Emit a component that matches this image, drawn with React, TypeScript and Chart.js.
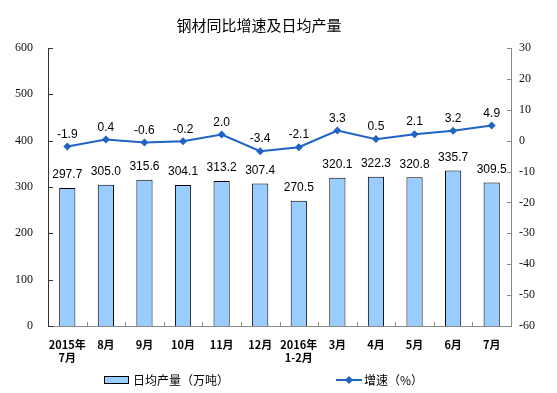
import React, { useEffect, useRef } from "react";
import { Chart, registerables } from "chart.js";
Chart.register(...registerables);

const categories: (string | string[])[] = [["2015年", "7月"], "8月", "9月", "10月", "11月", "12月", ["2016年", "1-2月"], "3月", "4月", "5月", "6月", "7月"];
const output = [297.7, 305.0, 315.6, 304.1, 313.2, 307.4, 270.5, 320.1, 322.3, 320.8, 335.7, 309.5];
const growth = [-1.9, 0.4, -0.6, -0.2, 2.0, -3.4, -2.1, 3.3, 0.5, 2.1, 3.2, 4.9];
const leftTicks = [0, 100, 200, 300, 400, 500, 600];
const rightTicks = [-60, -50, -40, -30, -20, -10, 0, 10, 20, 30];
const title = "钢材同比增速及日均产量";
const barLabel = "日均产量（万吨）";
const lineLabel = "增速（%）";

const BAR_COLOR = "#99CCFF";
const LINE_COLOR = "#1F63C4";
const CJK = '"Noto Sans CJK SC", sans-serif';
const SERIF = '"Times New Roman", "Liberation Serif", serif';

const extras = {
  id: "extras",
  afterDraw(chart: any) {
    const ctx = chart.ctx;
    const area = chart.chartArea;
    const y = chart.scales.y;
    const y1 = chart.scales.y1;
    ctx.save();
    // title
    ctx.fillStyle = "#000";
    ctx.font = `15px ${CJK}`;
    ctx.textAlign = "center";
    ctx.textBaseline = "middle";
    ctx.fillText(title, 259, 25);
    // axes
    ctx.lineWidth = 1;
    ctx.strokeStyle = "#333";
    ctx.beginPath();
    ctx.moveTo(Math.round(area.left) + 0.5, area.top);
    ctx.lineTo(Math.round(area.left) + 0.5, area.bottom);
    ctx.stroke();
    ctx.strokeStyle = "#888";
    ctx.beginPath();
    ctx.moveTo(Math.round(area.right) + 0.5, area.top);
    ctx.lineTo(Math.round(area.right) + 0.5, area.bottom);
    ctx.moveTo(area.left, Math.round(area.bottom) + 0.5);
    ctx.lineTo(area.right, Math.round(area.bottom) + 0.5);
    ctx.stroke();
    // tick marks
    ctx.strokeStyle = "#333";
    ctx.beginPath();
    leftTicks.forEach((v) => {
      const py = Math.round(y.getPixelForValue(v)) + 0.5;
      ctx.moveTo(Math.round(area.left), py);
      ctx.lineTo(Math.round(area.left) + 5, py);
    });
    ctx.stroke();
    ctx.strokeStyle = "#888";
    ctx.beginPath();
    rightTicks.forEach((v) => {
      const py = Math.round(y1.getPixelForValue(v)) + 0.5;
      ctx.moveTo(Math.round(area.right) - 4, py);
      ctx.lineTo(Math.round(area.right) + 1, py);
    });
    const n = categories.length;
    const w = (area.right - area.left) / n;
    for (let i = 1; i < n; i++) {
      const px = Math.round(area.left + i * w) + 0.5;
      ctx.moveTo(px, area.bottom);
      ctx.lineTo(px, area.bottom - 4);
    }
    ctx.stroke();
    // data labels
    ctx.font = '12px "Liberation Sans", Arial, sans-serif';
    ctx.fillStyle = "#000";
    ctx.textAlign = "center";
    ctx.textBaseline = "middle";
    const barMeta = chart.getDatasetMeta(0);
    barMeta.data.forEach((el: any, i: number) => {
      ctx.fillText(output[i].toFixed(1), el.x, el.y - 13);
    });
    const lineMeta = chart.getDatasetMeta(1);
    lineMeta.data.forEach((el: any, i: number) => {
      ctx.fillText(growth[i].toFixed(1), el.x, el.y - 12);
    });
    // legend
    ctx.fillStyle = BAR_COLOR;
    ctx.fillRect(104.5, 376.5, 24, 7);
    ctx.strokeStyle = "#000";
    ctx.strokeRect(104.5, 376.5, 24, 7);
    ctx.fillStyle = "#000";
    ctx.font = `12px ${CJK}`;
    ctx.textAlign = "left";
    ctx.fillText(barLabel, 133, 380);
    ctx.strokeStyle = LINE_COLOR;
    ctx.lineWidth = 2;
    ctx.beginPath();
    ctx.moveTo(336, 380);
    ctx.lineTo(362, 380);
    ctx.stroke();
    ctx.fillStyle = LINE_COLOR;
    ctx.beginPath();
    ctx.moveTo(349, 376);
    ctx.lineTo(353, 380);
    ctx.lineTo(349, 384);
    ctx.lineTo(345, 380);
    ctx.closePath();
    ctx.fill();
    ctx.fillStyle = "#000";
    ctx.fillText(lineLabel, 364, 380);
    ctx.restore();
  },
};

export default function App() {
  const ref = useRef<HTMLCanvasElement>(null);
  useEffect(() => {
    if (!ref.current) return;
    const chart = new Chart(ref.current, {
      type: "bar",
      data: {
        labels: categories,
        datasets: [
          {
            type: "bar",
            label: barLabel,
            data: output,
            backgroundColor: BAR_COLOR,
            borderColor: "#000",
            borderWidth: 1,
            barPercentage: 0.42,
            categoryPercentage: 1,
            yAxisID: "y",
            order: 2,
          },
          {
            type: "line",
            label: lineLabel,
            data: growth,
            borderColor: LINE_COLOR,
            backgroundColor: LINE_COLOR,
            borderWidth: 2,
            pointStyle: "rectRot",
            pointRadius: 4,
            pointBorderWidth: 0,
            tension: 0,
            yAxisID: "y1",
            order: 1,
          } as any,
        ],
      },
      options: {
        responsive: false,
        animation: false,
        layout: { padding: { top: 48, left: 0, right: 0, bottom: 0 } },
        plugins: { legend: { display: false }, title: { display: false }, tooltip: { enabled: false } },
        scales: {
          x: {
            grid: { display: false },
            border: { display: false },
            ticks: {
              color: "#000",
              font: { family: CJK, size: 11, weight: "bold" },
              maxRotation: 0,
              autoSkip: false,
              padding: 4,
            },
            afterFit: (s: any) => { s.height = 67; },
          },
          y: {
            position: "left",
            min: 0,
            max: 600,
            ticks: { stepSize: 100, color: "#111", font: { family: SERIF, size: 12 }, padding: 7 },
            grid: { display: false },
            border: { display: false },
            afterFit: (s: any) => { s.width = 48; },
          },
          y1: {
            position: "right",
            min: -60,
            max: 30,
            ticks: { stepSize: 10, color: "#111", font: { family: SERIF, size: 12 }, padding: 0 },
            grid: { display: false },
            border: { display: false },
            afterFit: (s: any) => { s.width = 46; },
          },
        },
      },
      plugins: [extras],
    });
    return () => chart.destroy();
  }, []);
  return (
    <div style={{ position: "fixed", left: 0, top: 0, width: 557, height: 393, background: "#fff" }}>
      <canvas ref={ref} width={557} height={393} style={{ width: 557, height: 393 }} />
    </div>
  );
}
